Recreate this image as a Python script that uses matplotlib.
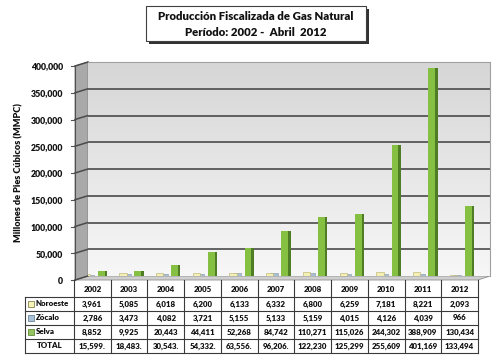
import matplotlib
matplotlib.use('Agg')
import matplotlib.pyplot as plt
import numpy as np
from matplotlib.patches import Rectangle, Polygon
from matplotlib.transforms import ScaledTranslation
from matplotlib.colors import LinearSegmentedColormap

years = ['2002', '2003', '2004', '2005', '2006', '2007', '2008', '2009', '2010', '2011', '2012']
series_names = ['Noroeste', 'Zócalo', 'Selva']
noroeste = [3961, 5085, 6018, 6200, 6133, 6332, 6800, 6259, 7181, 8221, 2093]
zocalo = [2786, 3473, 4082, 3721, 5155, 5133, 5159, 4015, 4126, 4039, 966]
selva = [8852, 9925, 20443, 44411, 52268, 84742, 110271, 115026, 244302, 388909, 130434]
totals = ['15,599.', '18,483.', '30,543.', '54,332.', '63,556.', '96,206.',
          '122,230', '125,299', '255,609', '401,169', '133,494']
yticks = [0, 50000, 100000, 150000, 200000, 250000, 300000, 350000, 400000]
title_lines = ['Producción Fiscalizada de Gas Natural', 'Período: 2002 -  Abril  2012']
ylabel = 'Millones de Pies Cúbicos (MMPC)'

FONT = ['Lato', 'DejaVu Sans']
plt.rcParams['font.family'] = FONT
WT = 'heavy'
TXT = '#111111'

W, H = 501, 360
fig = plt.figure(figsize=(W / 100, H / 100), dpi=100)

ov = fig.add_axes([0, 0, 1, 1], zorder=0)
ov.set_xlim(0, W)
ov.set_ylim(H, 0)
ov.axis('off')

tab_l, lab_r, tab_r = 25, 74, 478
ncol = len(years)
cw = (tab_r - lab_r) / ncol
wall_l, wall_r = 88, 490
y0_px, ytop_px = 276, 62

ax = fig.add_axes([wall_l / W, 1 - y0_px / H, (wall_r - wall_l) / W, (y0_px - ytop_px) / H], zorder=1)
xmin = (wall_l - lab_r) / cw - 0.5
xmax = (wall_r - lab_r) / cw - 0.5
ax.set_xlim(xmin, xmax)
ax.set_ylim(0, 400000)

grad = np.linspace(0, 1, 256).reshape(-1, 1)
cmap = LinearSegmentedColormap.from_list('wall', ['#f7f7f7', '#d6d6d6'])
ax.imshow(grad, extent=[xmin, xmax, 0, 400000], aspect='auto', cmap=cmap, origin='lower', zorder=0)

for t in yticks[1:]:
    ax.axhline(t, color='#4a4a4a', lw=1.2, zorder=0.5)

x = np.arange(ncol)
green_front = '#86c043'
green_side = '#4f7d25'
ax.bar(x + 0.24, selva, width=0.19, color=green_front, edgecolor='none', zorder=2)
ax.bar(x + 0.365, selva, width=0.065, color=green_side, edgecolor='none', zorder=2)
ax.bar(x - 0.05, zocalo, width=0.2, color='#a8bfd3', edgecolor='#7f95a8', lw=0.4, zorder=3)
ax.bar(x - 0.17, noroeste, width=0.2, color='#f4f0b2', edgecolor='#b5ad6a', lw=0.4, zorder=4)

for s in ['left', 'bottom']:
    ax.spines[s].set_visible(False)
for s in ['top', 'right']:
    ax.spines[s].set_color('#a0a0a0')
    ax.spines[s].set_linewidth(0.8)
ax.set_xticks([])
ax.set_yticks(yticks)
ax.set_yticklabels([f'{v:,}' for v in yticks], fontsize=6.3, fontweight=WT, color=TXT)
ax.tick_params(axis='y', length=0, pad=18)
off = ScaledTranslation(0, -4 / 100, fig.dpi_scale_trans)
for lbl in ax.get_yticklabels():
    lbl.set_transform(lbl.get_transform() + off)

ov.add_patch(Polygon([(75, 66), (wall_l, ytop_px), (wall_l, y0_px), (75, 280)],
                     closed=True, facecolor='#a9a9a9', edgecolor='#808080', lw=0.6))
ov.add_patch(Polygon([(75, 280), (wall_l, y0_px), (wall_r, y0_px), (tab_r, 280)],
                     closed=True, facecolor='#cfcfcf', edgecolor='#909090', lw=0.6))
ov.plot([75, 75], [66, 280], color='#505050', lw=0.8)
for t in yticks:
    ypx = y0_px - (y0_px - ytop_px) * t / 400000
    ov.plot([75, wall_l], [ypx + 4, ypx], color='#4a4a4a', lw=1.1)
    ov.plot([71, 75], [ypx + 4, ypx + 4], color='#505050', lw=0.8)

ov.text(19, 173, ylabel, rotation=90, ha='center', va='center', fontsize=6.6,
        fontweight=WT, color=TXT)

ov.add_patch(Rectangle((149, 9), 220, 35, facecolor='#333333', edgecolor='none'))
ov.add_patch(Rectangle((146, 6), 220, 35, facecolor='white', edgecolor='#404040', lw=0.8))
ov.text(256, 16, title_lines[0], ha='center', va='center', fontsize=8.2, fontweight=WT, color=TXT)
ov.text(256, 32, title_lines[1], ha='center', va='center', fontsize=8.2, fontweight=WT, color=TXT)

lc = '#3a3a3a'
hdr_top, row_h = 280, 14
rows_top = 297
nrows = 4
bottom = rows_top + nrows * row_h
for i in range(ncol + 1):
    xx = lab_r + i * cw
    ov.plot([xx, xx], [hdr_top, bottom], color=lc, lw=0.8)
ov.plot([tab_l, tab_l], [rows_top, bottom], color=lc, lw=0.8)
for r in range(nrows + 1):
    yy = rows_top + r * row_h
    ov.plot([tab_l, tab_r], [yy, yy], color=lc, lw=0.8)

fs = 5.7
for i, yr in enumerate(years):
    ov.text(lab_r + (i + 0.5) * cw, 289, yr, ha='center', va='center', fontsize=fs, fontweight=WT, color=TXT)

marker_colors = ['#f6f3b8', '#a9c2da', '#95c262']
marker_edges = ['#8a8450', '#6d8399', '#5f8a35']
data_rows = [noroeste, zocalo, selva]
for r in range(3):
    yc = rows_top + (r + 0.5) * row_h
    ov.add_patch(Rectangle((28.5, yc - 3), 5.5, 5.5, facecolor=marker_colors[r], edgecolor=marker_edges[r], lw=0.6))
    ov.text(36, yc, series_names[r], ha='left', va='center', fontsize=fs, fontweight=WT, color=TXT)
    for i in range(ncol):
        ov.text(lab_r + (i + 0.5) * cw, yc, f'{data_rows[r][i]:,}', ha='center', va='center',
                fontsize=fs, fontweight=WT, color=TXT)
yc = rows_top + 3.5 * row_h
ov.text((tab_l + lab_r) / 2, yc, 'TOTAL', ha='center', va='center', fontsize=fs, fontweight=WT, color=TXT)
for i in range(ncol):
    ov.text(lab_r + (i + 0.5) * cw, yc, totals[i], ha='center', va='center', fontsize=fs,
            fontweight=WT, color=TXT)

fig.savefig('out.png', dpi=100)
